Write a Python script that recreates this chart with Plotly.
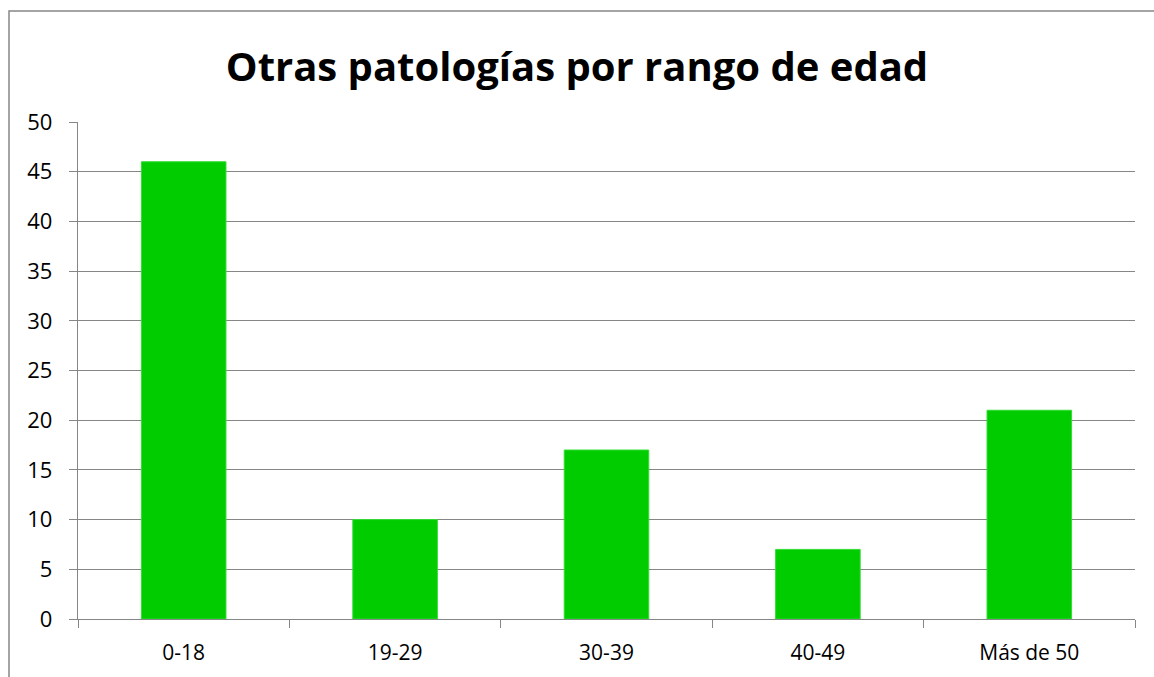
import plotly.graph_objects as go

categories = ["0-18", "19-29", "30-39", "40-49", "Más de 50"]
values = [46, 10, 17, 7, 21]
y_ticks = [0, 5, 10, 15, 20, 25, 30, 35, 40, 45, 50]

grid = "#868686"
font_family = "Open Sans, Noto Sans, Liberation Sans, sans-serif"

fig = go.Figure(go.Bar(
    x=categories, y=values,
    marker=dict(color="#00CC00", line=dict(color="#33DD33", width=1)),
))

fig.update_layout(
    width=1154, height=677,
    margin=dict(l=78, r=19, t=122, b=58),
    paper_bgcolor="white", plot_bgcolor="white",
    bargap=0.6,
    showlegend=False,
    font=dict(family=font_family, size=22, color="#000000"),
    title=dict(text="<b>Otras patologías por rango de edad</b>",
               x=0.5, xanchor="center", y=1 - 67 / 677, yanchor="middle",
               yref="container",
               font=dict(family=font_family, size=40, color="#000000")),
    shapes=[dict(type="rect", xref="paper", yref="paper",
                 x0=(9 - 78) / 1057, x1=1.2, y0=-0.3, y1=(619 - 11) / 497,
                 line=dict(color=grid, width=1.5), layer="below")],
)

fig.update_xaxes(type="category", tickson="boundaries", ticks="outside",
                 ticklen=8, tickcolor=grid, tickwidth=1.3, showline=True,
                 linecolor=grid, linewidth=1.3, showgrid=False,
                 ticklabelstandoff=15, tickfont=dict(size=21))
fig.update_yaxes(range=[0, 50], tickvals=y_ticks, ticks="outside", ticklen=8,
                 tickcolor=grid, tickwidth=1.3, showline=True, linecolor=grid,
                 linewidth=1.3, showgrid=True, gridcolor=grid, gridwidth=1.3,
                 zeroline=False, ticklabelstandoff=12, tickfont=dict(size=22))

fig.write_html("out.html", config={"displayModeBar": False},
               post_script="document.body.style.margin='0';document.body.style.padding='0';")
